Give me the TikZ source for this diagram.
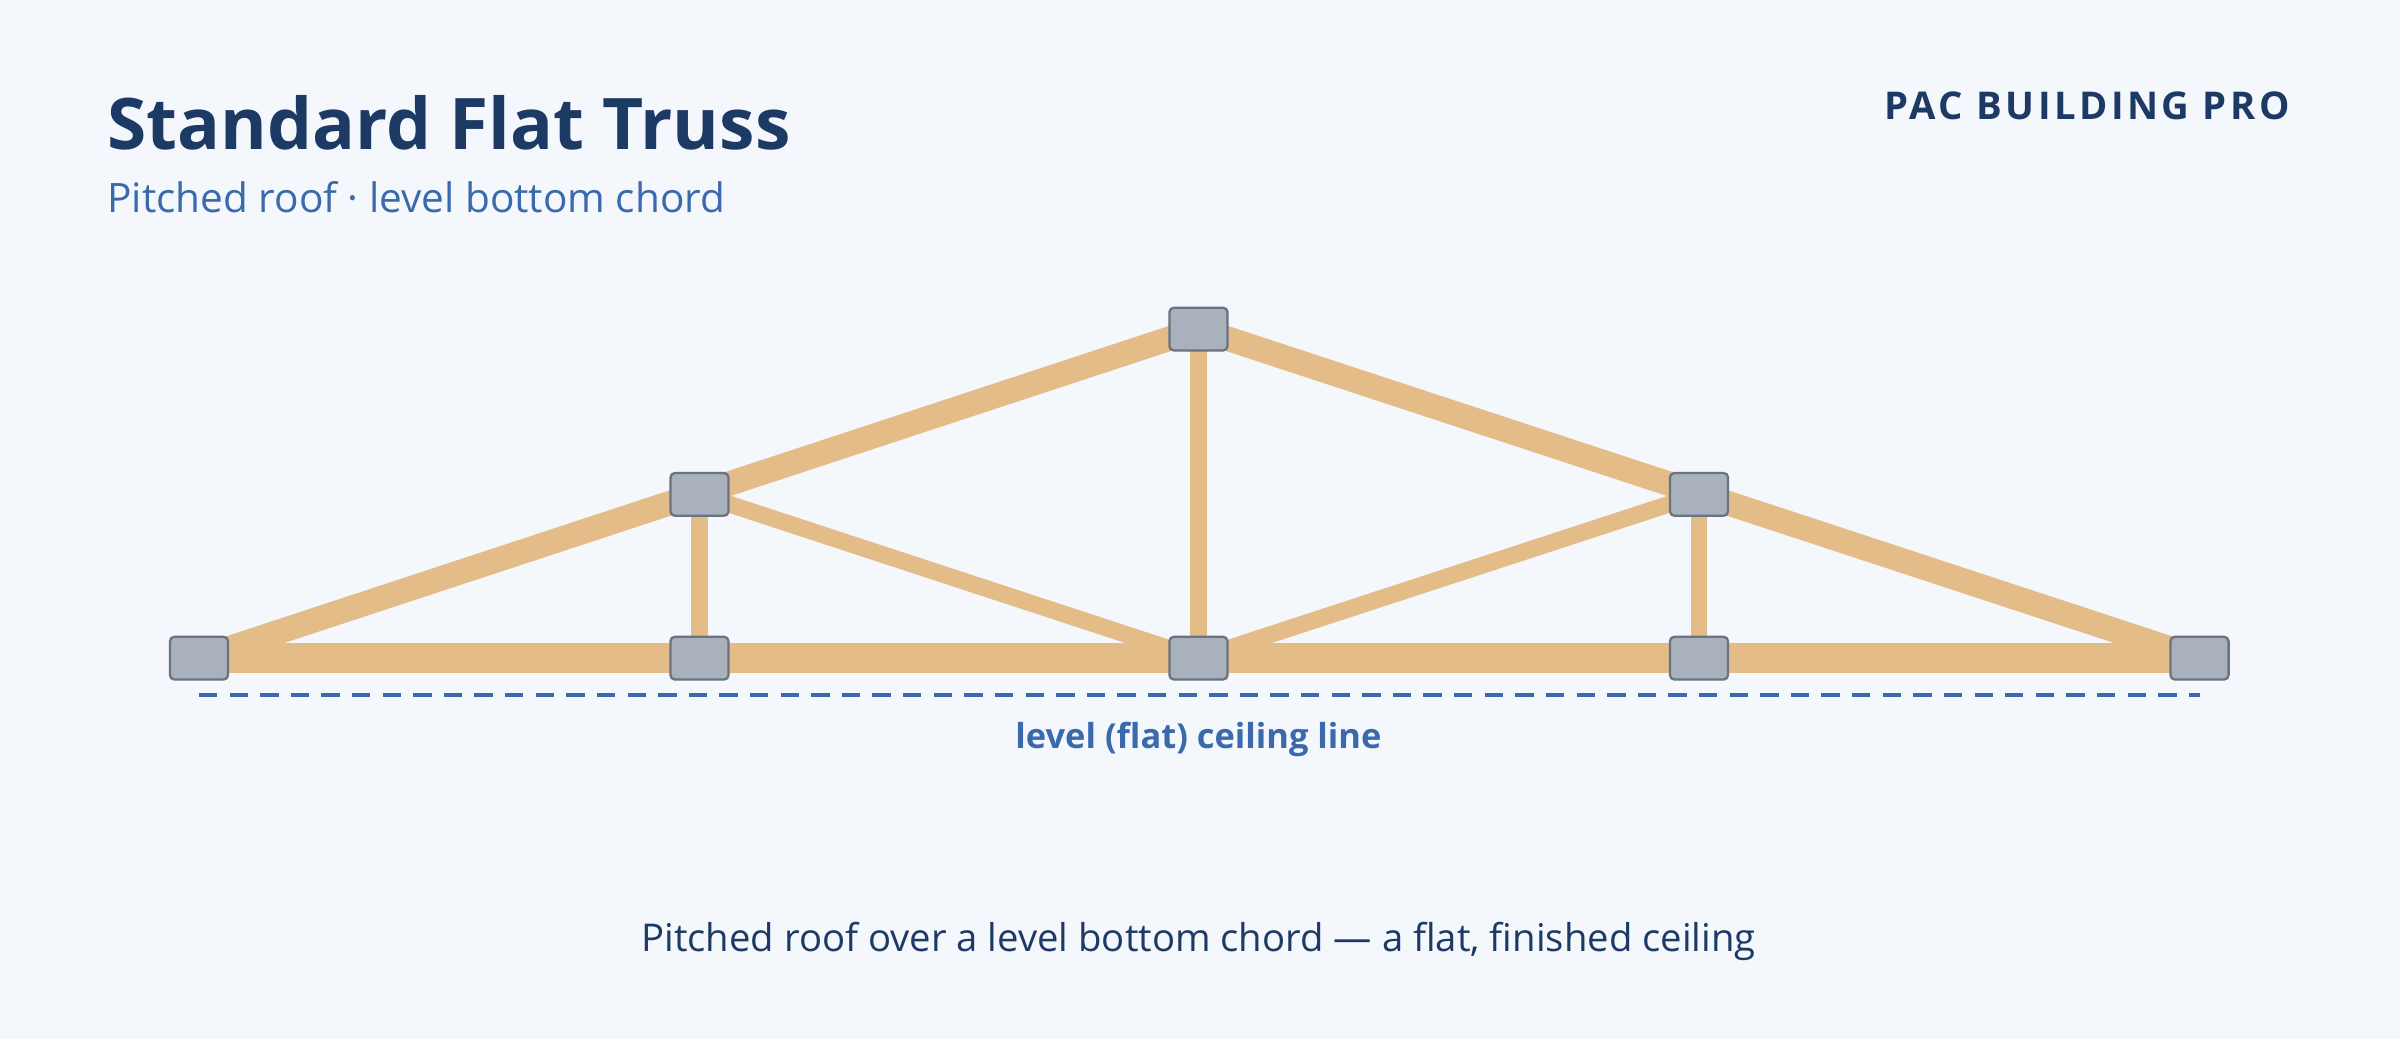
\documentclass[tikz,border=0pt]{standalone}
\usepackage{fontspec}
\setmainfont{Open Sans}
\newfontfamily\brandfont[LetterSpace=9]{Open Sans}
\definecolor{bg}{HTML}{F4F7FC}
\definecolor{navy}{HTML}{1C3A63}
\definecolor{blue}{HTML}{3A6AAD}
\definecolor{wood}{HTML}{E3BC88}
\definecolor{plate}{HTML}{A9B1BD}
\definecolor{platedge}{HTML}{6B7280}
\begin{document}
\begin{tikzpicture}[x=1pt,y=-1pt,
  jointbox/.style={draw=platedge,fill=plate,line width=1.5pt,rounded corners=3pt,minimum width=38pt,minimum height=28pt,inner sep=0pt},
  topchord/.style={draw=wood,line width=16pt},
  botchord/.style={draw=wood,line width=20pt},
  web/.style={draw=wood,line width=11pt}]
\fill[bg] (0,0) rectangle (1568,679);
\useasboundingbox (0,0) rectangle (1568,679);
\coordinate (L) at (130,430);
\coordinate (R) at (1437,430);
\coordinate (B1) at (457,430);
\coordinate (B2) at (783,430);
\coordinate (B3) at (1110,430);
\coordinate (T1) at (457,323);
\coordinate (A) at (783,215);
\coordinate (T2) at (1110,323);
% webs
\draw[web] (T1) -- (B1);
\draw[web] (A) -- (B2);
\draw[web] (T2) -- (B3);
\draw[web] (T1) -- (B2);
\draw[web] (T2) -- (B2);
% chords
\draw[botchord] (L) -- (R);
\draw[topchord] (L) -- (A) -- (R);
% joints
\foreach \n in {L,R,B1,B2,B3,T1,A,T2} \node[jointbox] (j\n) at (\n) {};
% ceiling line
\coordinate (cl) at (130,454);
\coordinate (cr) at (1437,454);
\draw[blue,line width=3pt,dash pattern=on 12pt off 8pt] (cl) -- (cr);
\node[blue,font=\bfseries\fontsize{22.5}{26}\selectfont] (clab) at (783,483) {level (flat) ceiling line};
% titles
\node[anchor=base west,navy,inner sep=0pt,font=\bfseries\fontsize{46.5}{56}\selectfont] (title) at (70,98) {Standard Flat Truss};
\node[anchor=base west,blue,inner sep=0pt,font=\fontsize{26.5}{30}\selectfont] (sub) at (70,139) {Pitched roof · level bottom chord};
\node[anchor=base east,navy,inner sep=0pt,font=\brandfont\bfseries\fontsize{25}{28}\selectfont] (brand) at (1496,78) {PAC BUILDING PRO};
\node[navy,font=\fontsize{25}{30}\selectfont] (cap) at (783,615) {Pitched roof over a level bottom chord — a flat, finished ceiling};
\end{tikzpicture}
\end{document}
